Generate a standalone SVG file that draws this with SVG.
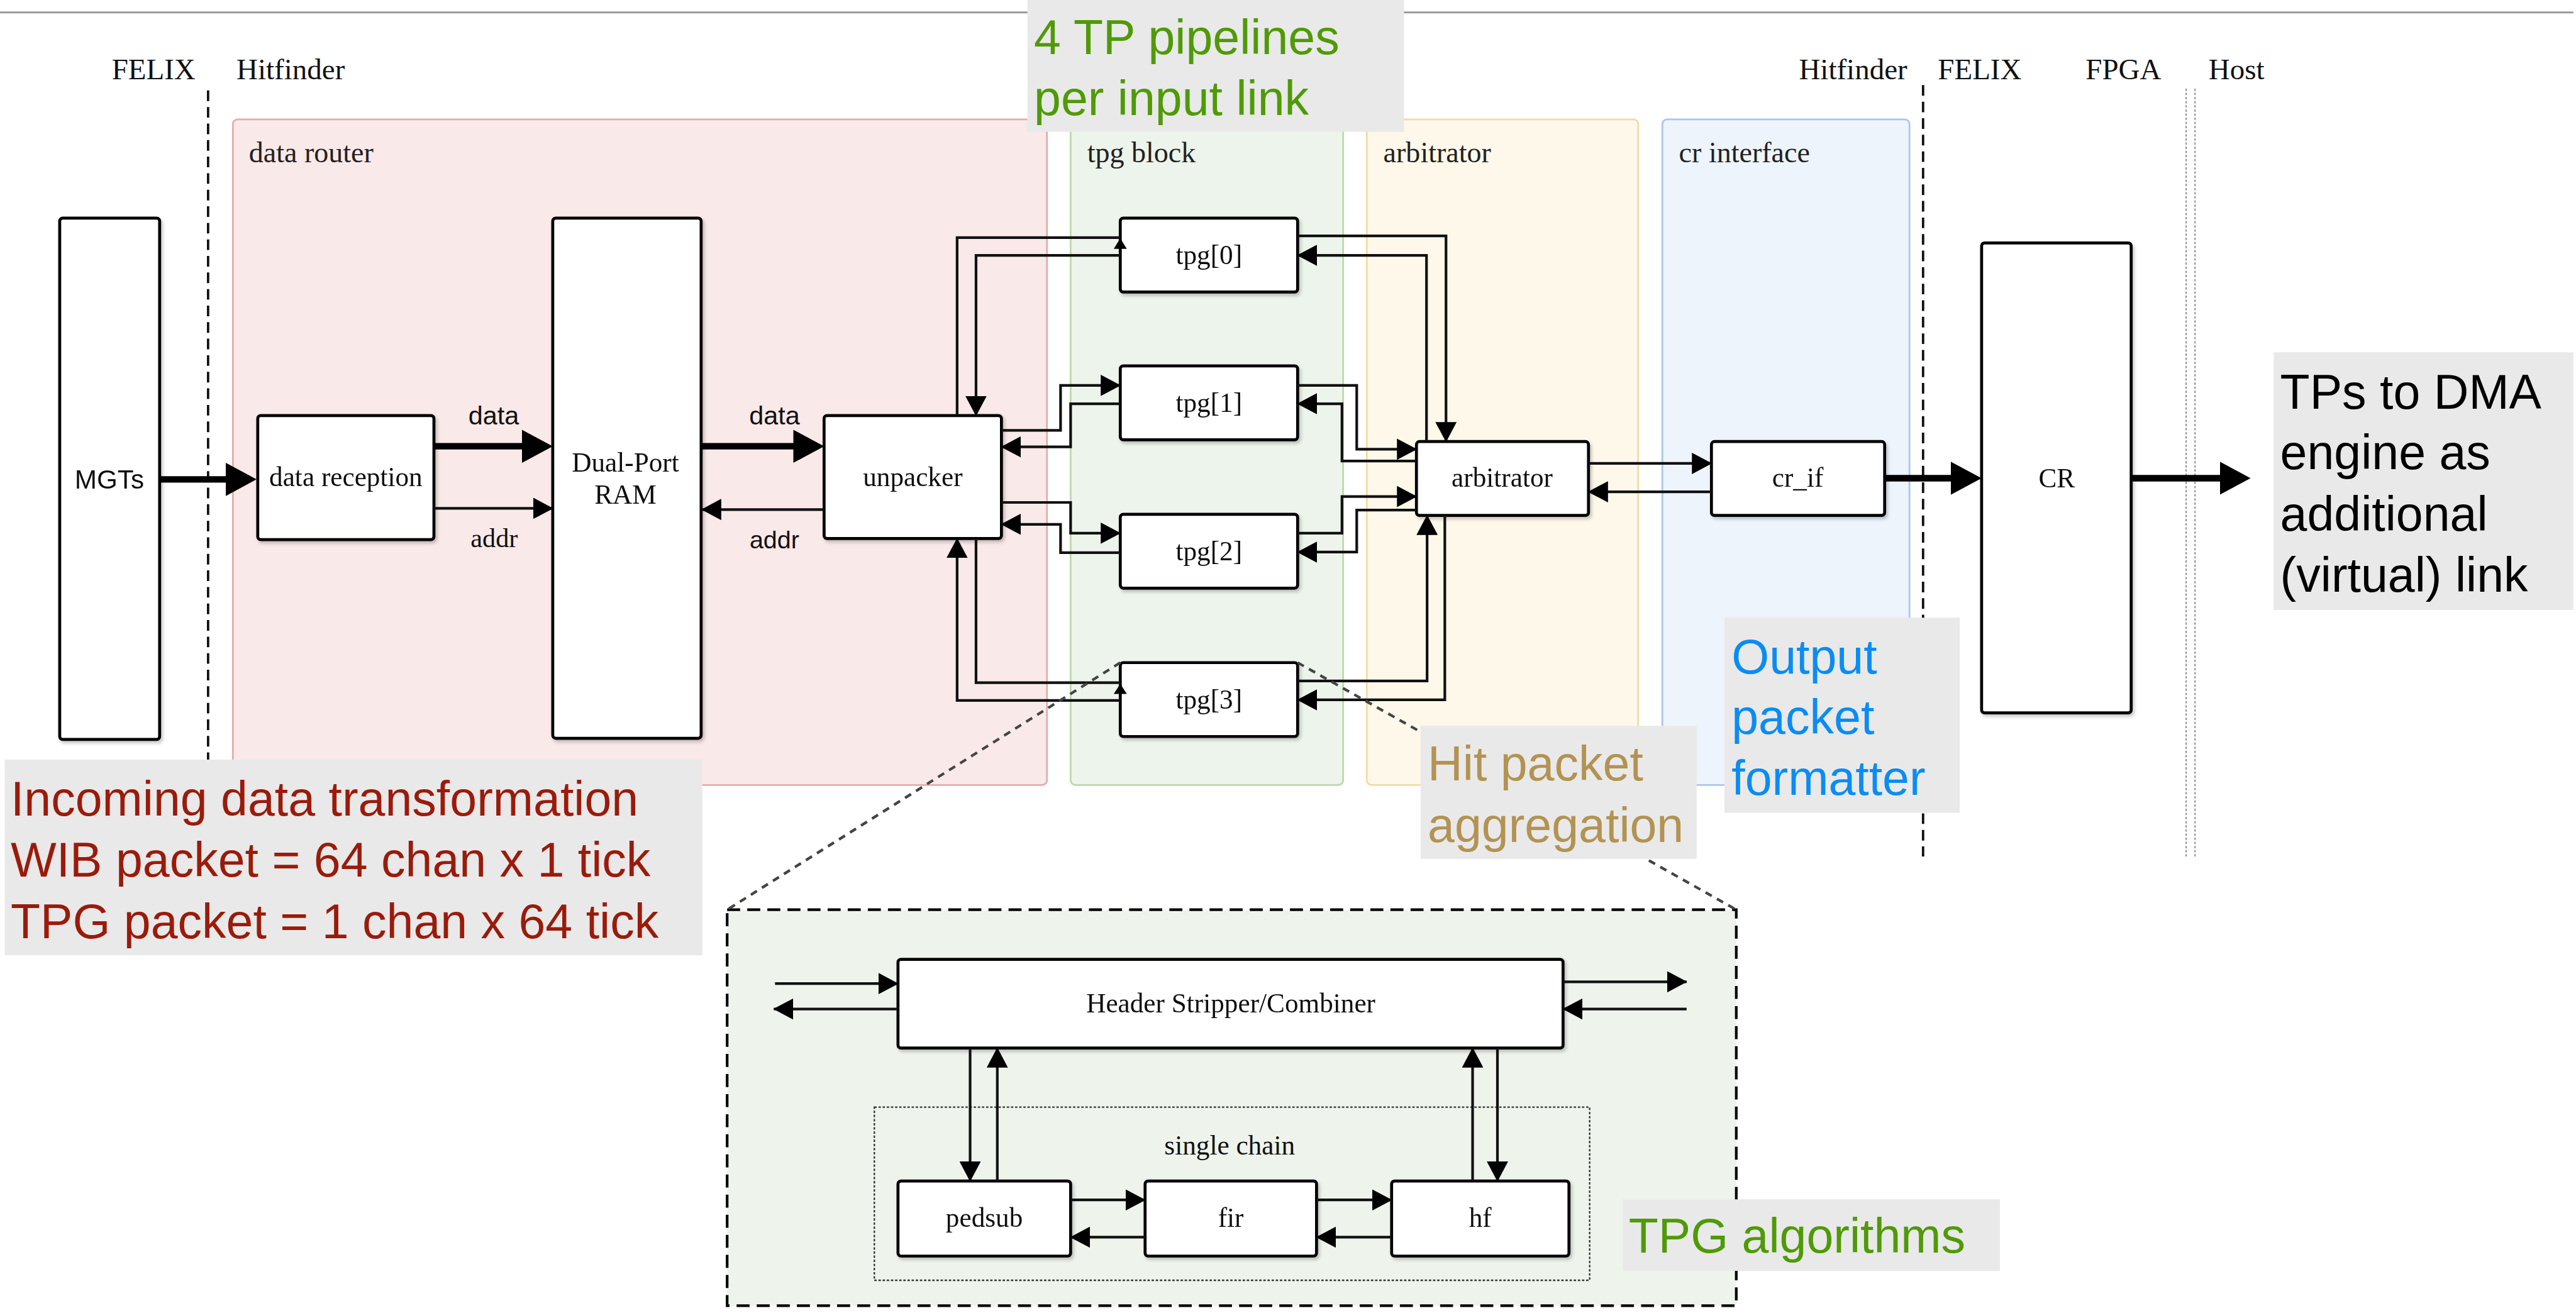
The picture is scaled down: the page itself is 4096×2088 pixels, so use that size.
<svg xmlns="http://www.w3.org/2000/svg" width="4096" height="2088" viewBox="0 0 4096 2088">
  <defs>
    <style>
      .node { fill: #ffffff; stroke: #000000; stroke-width: 5; }
      .lbl { font-family: "Liberation Serif", "Times New Roman", serif; font-size: 46px; fill: #111111; text-anchor: middle; }
      .cap { font-family: "Liberation Serif", "Times New Roman", serif; font-size: 49px; fill: #222222; }
      .zone { font-family: "Liberation Serif", "Times New Roman", serif; font-size: 50px; fill: #111111; }
      .sans { font-family: "Liberation Sans", Arial, sans-serif; }
      .note { font-family: "Liberation Sans", Arial, sans-serif; font-size: 82px; }
      .notebox { fill: #e9e9e9; }
      .wire { fill: none; stroke: #111111; stroke-width: 4.5; }
      .thick { fill: none; stroke: #000000; stroke-width: 11; }
      .sep { stroke: #111111; stroke-width: 4; stroke-dasharray: 18 10; }
      .dots { stroke: #888888; stroke-width: 2; stroke-dasharray: 4 3; }
      .lead { stroke: #444444; stroke-width: 4.5; stroke-dasharray: 12 10; }
    </style>
    <marker id="a" markerUnits="userSpaceOnUse" markerWidth="34" markerHeight="36" refX="33" refY="18" orient="auto">
      <path d="M0,0 L34,18 L0,36 Z" fill="#000"/>
    </marker>
    <marker id="big" markerUnits="userSpaceOnUse" markerWidth="52" markerHeight="56" refX="2" refY="28" orient="auto">
      <path d="M0,0 L52,28 L0,56 Z" fill="#000"/>
    </marker>
    <filter id="sh" x="-10%" y="-10%" width="130%" height="130%">
      <feDropShadow dx="3" dy="4" stdDeviation="3" flood-color="#000" flood-opacity="0.22"/>
    </filter>
  </defs>

  <rect x="0" y="0" width="4096" height="2088" fill="#ffffff"/>

  <g transform="scale(0.94)">
    <!-- page rule along the top -->
    <line x1="0" y1="21" x2="4353" y2="21" stroke="#9a9a9a" stroke-width="3"/>

    <!-- domain labels -->
    <g id="domains">
      <text class="zone" x="189" y="134">FELIX</text>
      <text class="zone" x="400" y="134">Hitfinder</text>
      <text class="zone" x="3043" y="134">Hitfinder</text>
      <text class="zone" x="3278" y="134">FELIX</text>
      <text class="zone" x="3528" y="134">FPGA</text>
      <text class="zone" x="3736" y="134">Host</text>
      <line class="sep" x1="352" y1="153" x2="352" y2="1290"/>
      <line class="sep" x1="3253" y1="144" x2="3253" y2="1449"/>
      <line class="dots" x1="3698" y1="150" x2="3698" y2="1450"/>
      <line class="dots" x1="3713" y1="150" x2="3713" y2="1450"/>
    </g>

    <!-- functional containers -->
    <g id="data-router">
      <rect x="394" y="202" width="1377" height="1126" rx="8" fill="#f9e9e9" stroke="#e6acac" stroke-width="3"/>
      <text class="cap" x="421" y="274">data router</text>
    </g>
    <g id="tpg-block">
      <rect x="1811" y="202" width="461" height="1126" rx="8" fill="#edf4eb" stroke="#bcd9ab" stroke-width="3"/>
      <text class="cap" x="1839" y="274">tpg block</text>
    </g>
    <g id="arbitrator-zone">
      <rect x="2312" y="202" width="459" height="1126" rx="8" fill="#fef8ea" stroke="#f1dca2" stroke-width="3"/>
      <text class="cap" x="2340" y="274">arbitrator</text>
    </g>
    <g id="cr-interface">
      <rect x="2812" y="202" width="418" height="1126" rx="8" fill="#edf4fc" stroke="#a9c7ea" stroke-width="3"/>
      <text class="cap" x="2840" y="274">cr interface</text>
    </g>

    <!-- processing blocks -->
    <g id="mgts" filter="url(#sh)">
      <rect class="node" x="101" y="369" width="169" height="882" rx="5"/>
      <text class="sans" x="185" y="827" font-size="45" text-anchor="middle" fill="#111">MGTs</text>
    </g>
    <g id="data-reception" filter="url(#sh)">
      <rect class="node" x="436" y="703" width="298" height="210" rx="5"/>
      <text class="lbl" x="585" y="822">data reception</text>
    </g>
    <g id="dual-port-ram" filter="url(#sh)">
      <rect class="node" x="935" y="369" width="251" height="880" rx="5"/>
      <text class="lbl" x="1058" y="798">Dual-Port</text>
      <text class="lbl" x="1058" y="852">RAM</text>
    </g>
    <g id="unpacker" filter="url(#sh)">
      <rect class="node" x="1394" y="703" width="300" height="208" rx="5"/>
      <text class="lbl" x="1544" y="822">unpacker</text>
    </g>
    <g id="tpg0" filter="url(#sh)">
      <rect class="node" x="1895" y="369" width="300" height="125" rx="5"/>
      <text class="lbl" x="2045" y="447">tpg[0]</text>
    </g>
    <g id="tpg1" filter="url(#sh)">
      <rect class="node" x="1895" y="619" width="300" height="125" rx="5"/>
      <text class="lbl" x="2045" y="697">tpg[1]</text>
    </g>
    <g id="tpg2" filter="url(#sh)">
      <rect class="node" x="1895" y="870" width="300" height="125" rx="5"/>
      <text class="lbl" x="2045" y="948">tpg[2]</text>
    </g>
    <g id="tpg3" filter="url(#sh)">
      <rect class="node" x="1895" y="1121" width="300" height="125" rx="5"/>
      <text class="lbl" x="2045" y="1199">tpg[3]</text>
    </g>
    <g id="arbitrator" filter="url(#sh)">
      <rect class="node" x="2396" y="747" width="291" height="125" rx="5"/>
      <text class="lbl" x="2541" y="823">arbitrator</text>
    </g>
    <g id="cr-if" filter="url(#sh)">
      <rect class="node" x="2895" y="747" width="293" height="125" rx="5"/>
      <text class="lbl" x="3041" y="823">cr_if</text>
    </g>
    <g id="cr" filter="url(#sh)">
      <rect class="node" x="3352" y="411" width="253" height="795" rx="5"/>
      <text class="lbl" x="3479" y="824">CR</text>
    </g>

    <!-- links between blocks -->
    <g id="connectors">
      <path class="thick" d="M270,811 H384" marker-end="url(#big)"/>
      <path class="thick" d="M734,755 H885" marker-end="url(#big)"/>
      <path class="thick" d="M1186,755 H1344" marker-end="url(#big)"/>
      <path class="thick" d="M3188,809 H3302" marker-end="url(#big)"/>
      <path class="thick" d="M3605,809 H3757" marker-end="url(#big)"/>
      <path class="wire" d="M734,860 H935" stroke-width="5.5" marker-end="url(#a)"/>
      <path class="wire" d="M1394,862 H1187" stroke-width="5" marker-end="url(#a)"/>

      <!-- unpacker to/from the four pipelines -->
      <path class="wire" d="M1619,703 V402 H1895"/>
      <polygon points="1884,421 1906,421 1895,403" fill="#000"/>
      <path class="wire" d="M1895,432 H1651 V703" marker-end="url(#a)"/>
      <path class="wire" d="M1694,728 H1794 V652 H1895" marker-end="url(#a)"/>
      <path class="wire" d="M1895,683 H1811 V756 H1694" marker-end="url(#a)"/>
      <path class="wire" d="M1694,850 H1811 V902 H1895" marker-end="url(#a)"/>
      <path class="wire" d="M1895,935 H1794 V887 H1694" marker-end="url(#a)"/>
      <path class="wire" d="M1651,911 V1155 H1895"/>
      <polygon points="1884,1174 1906,1174 1895,1157" fill="#000"/>
      <path class="wire" d="M1895,1185 H1619 V911" marker-end="url(#a)"/>

      <!-- pipelines to/from the arbitrator -->
      <path class="wire" d="M2195,399 H2446 V747" marker-end="url(#a)"/>
      <path class="wire" d="M2413,747 V432 H2195" marker-end="url(#a)"/>
      <path class="wire" d="M2195,652 H2295 V760 H2396" marker-end="url(#a)"/>
      <path class="wire" d="M2396,780 H2270 V683 H2195" marker-end="url(#a)"/>
      <path class="wire" d="M2195,902 H2270 V840 H2396" marker-end="url(#a)"/>
      <path class="wire" d="M2396,863 H2295 V934 H2195" marker-end="url(#a)"/>
      <path class="wire" d="M2195,1152 H2414 V872" marker-end="url(#a)"/>
      <path class="wire" d="M2444,872 V1184 H2195" marker-end="url(#a)"/>

      <!-- arbitrator to/from cr_if -->
      <path class="wire" d="M2687,784 H2895" marker-end="url(#a)"/>
      <path class="wire" d="M2895,832 H2687" marker-end="url(#a)"/>
    </g>

    <!-- link labels -->
    <g id="link-labels" fill="#111">
      <text class="sans" x="835" y="718" font-size="44" text-anchor="middle">data</text>
      <text x="836" y="925" font-family="Liberation Serif, Times New Roman, serif" font-size="45" text-anchor="middle">addr</text>
      <text class="sans" x="1310" y="718" font-size="44" text-anchor="middle">data</text>
      <text class="sans" x="1310" y="928" font-size="42" text-anchor="middle">addr</text>
    </g>

    <!-- detail view of one pipeline -->
    <g id="tpg-detail">
      <rect x="1230" y="1539" width="1707" height="670" fill="#eef4ec" stroke="#000" stroke-width="4.5" stroke-dasharray="22 12"/>
      <rect x="1479" y="1873" width="1210" height="293" fill="none" stroke="#333" stroke-width="2.5" stroke-dasharray="4 3"/>
      <text class="lbl" x="2080" y="1953">single chain</text>
    </g>
    <g id="header-stripper" filter="url(#sh)">
      <rect class="node" x="1519" y="1623" width="1125" height="150" rx="5"/>
      <text class="lbl" x="2082" y="1713">Header Stripper/Combiner</text>
    </g>
    <g id="pedsub" filter="url(#sh)">
      <rect class="node" x="1519" y="1998" width="292" height="127" rx="5"/>
      <text class="lbl" x="1665" y="2075">pedsub</text>
    </g>
    <g id="fir" filter="url(#sh)">
      <rect class="node" x="1937" y="1998" width="290" height="127" rx="5"/>
      <text class="lbl" x="2082" y="2075">fir</text>
    </g>
    <g id="hf" filter="url(#sh)">
      <rect class="node" x="2354" y="1998" width="300" height="127" rx="5"/>
      <text class="lbl" x="2504" y="2075">hf</text>
    </g>
    <g id="detail-connectors">
      <path class="wire" d="M1311,1664 H1519" marker-end="url(#a)"/>
      <path class="wire" d="M1519,1707 H1309" marker-end="url(#a)"/>
      <path class="wire" d="M2644,1661 H2853" marker-end="url(#a)"/>
      <path class="wire" d="M2853,1707 H2644" marker-end="url(#a)"/>
      <path class="wire" d="M1641,1773 V1998" marker-end="url(#a)"/>
      <path class="wire" d="M1687,1998 V1773" marker-end="url(#a)"/>
      <path class="wire" d="M2491,1998 V1773" marker-end="url(#a)"/>
      <path class="wire" d="M2533,1773 V1998" marker-end="url(#a)"/>
      <path class="wire" d="M1811,2030 H1937" stroke-width="6" stroke="#333" marker-end="url(#a)"/>
      <path class="wire" d="M1937,2093 H1811" stroke-width="6" stroke="#333" marker-end="url(#a)"/>
      <path class="wire" d="M2227,2030 H2354" stroke-width="6" stroke="#333" marker-end="url(#a)"/>
      <path class="wire" d="M2354,2093 H2227" stroke-width="6" stroke="#333" marker-end="url(#a)"/>
    </g>

    <!-- zoom leaders from tpg[3] to its detail view -->
    <line class="lead" x1="1895" y1="1121" x2="1230" y2="1539"/>
    <line class="lead" x1="2195" y1="1121" x2="2937" y2="1539"/>

    <!-- callouts -->
    <g id="note-pipelines">
      <rect class="notebox" x="1738" y="0" width="637" height="223"/>
      <text class="note" x="1749" y="92" fill="#4f9a06">4 TP pipelines</text>
      <text class="note" x="1749" y="195" fill="#4f9a06">per input link</text>
    </g>
    <g id="note-incoming">
      <rect class="notebox" x="8" y="1285" width="1180" height="331"/>
      <text class="note" x="18" y="1380" fill="#9a1b0b">Incoming data transformation</text>
      <text class="note" x="18" y="1483" fill="#9a1b0b">WIB packet = 64 chan x 1 tick</text>
      <text class="note" x="18" y="1587" fill="#9a1b0b">TPG packet = 1 chan x 64 tick</text>
    </g>
    <g id="note-hit">
      <rect class="notebox" x="2403" y="1228" width="467" height="225"/>
      <text class="note" x="2415" y="1320" fill="#b39352">Hit packet</text>
      <text class="note" x="2415" y="1424" fill="#b39352">aggregation</text>
    </g>
    <g id="note-output">
      <rect class="notebox" x="2917" y="1045" width="398" height="330"/>
      <text class="note" x="2929" y="1139" fill="#0a8cf5">Output</text>
      <text class="note" x="2929" y="1242" fill="#0a8cf5">packet</text>
      <text class="note" x="2929" y="1345" fill="#0a8cf5">formatter</text>
    </g>
    <g id="note-dma">
      <rect class="notebox" x="3846" y="596" width="507" height="436"/>
      <text class="note" x="3857" y="691" fill="#000">TPs to DMA</text>
      <text class="note" x="3857" y="794" fill="#000">engine as</text>
      <text class="note" x="3857" y="898" fill="#000">additional</text>
      <text class="note" x="3857" y="1001" fill="#000">(virtual) link</text>
    </g>
    <g id="note-algorithms">
      <rect class="notebox" x="2745" y="2029" width="638" height="121"/>
      <text class="note" x="2755" y="2119" fill="#4f9a06">TPG algorithms</text>
    </g>
  </g>
</svg>
